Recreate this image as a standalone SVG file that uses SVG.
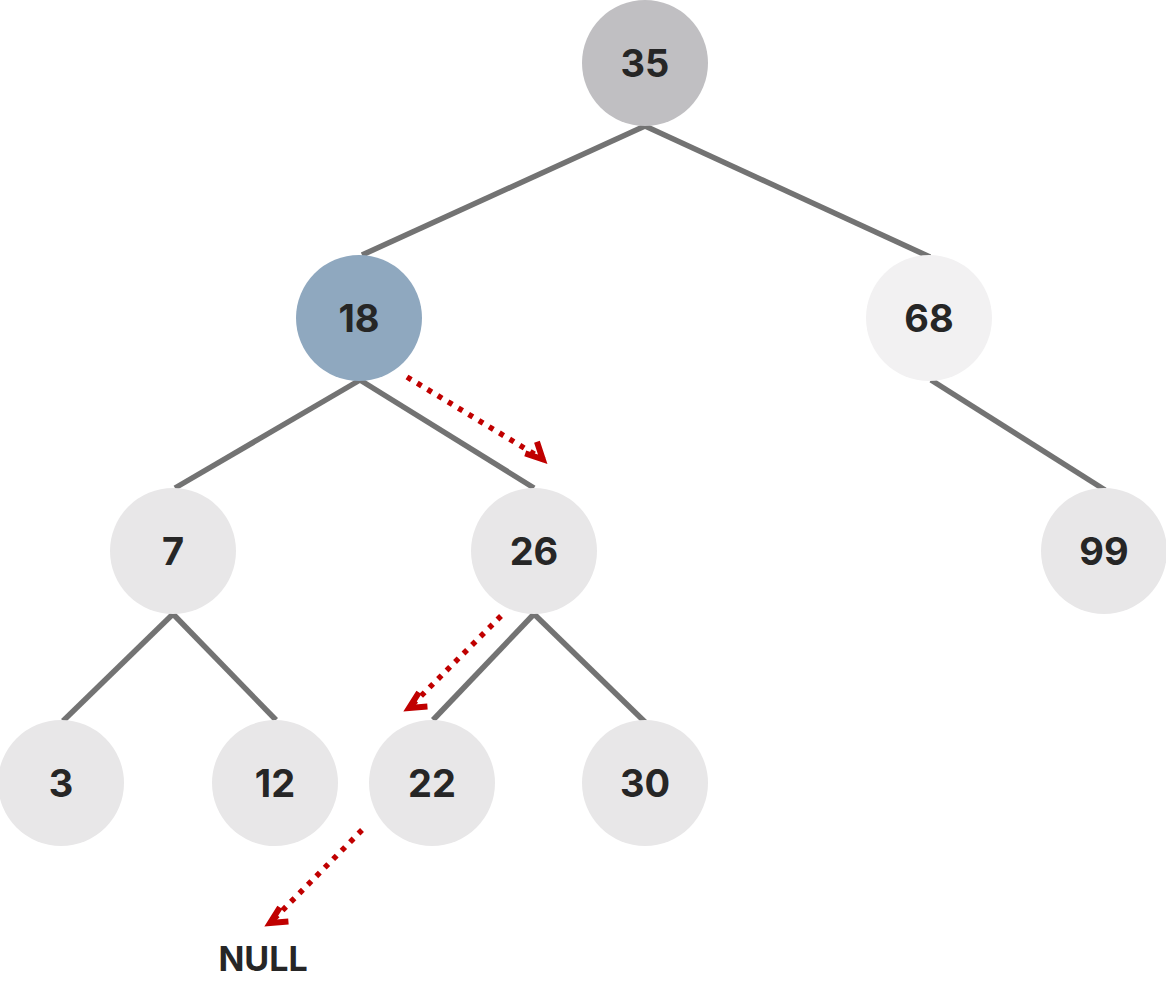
<svg xmlns="http://www.w3.org/2000/svg" width="1166" height="1002" viewBox="0 0 1166 1002">
<style>
.e{stroke:#737373;stroke-width:5.5;fill:none}
.a{stroke:#c00000;stroke-width:5.5;stroke-dasharray:5 7;fill:none}
.t{font-family:Inter,"Noto Sans",sans-serif;font-weight:bold;font-size:38px;fill:#262626;text-anchor:middle;dominant-baseline:central}
.g{fill:#e8e7e8}
</style>
<defs>
<marker id="ah" markerWidth="8" markerHeight="8" refX="5.5" refY="4" orient="auto" markerUnits="userSpaceOnUse" viewBox="0 0 8 8" overflow="visible">
<path d="M-10,-8 L4,4 L-14,8" fill="none" stroke="#c00000" stroke-width="6" stroke-linejoin="miter"/>
</marker>
</defs>
<g id="connectors">
<line class="e" x1="645" y1="126" x2="362" y2="255"/>
<line class="e" x1="645" y1="126" x2="930" y2="257"/>
<line class="e" x1="360" y1="380" x2="175" y2="488"/>
<line class="e" x1="360" y1="380" x2="534" y2="488"/>
<line class="e" x1="931" y1="380" x2="1105" y2="490"/>
<line class="e" x1="173" y1="614" x2="63" y2="721"/>
<line class="e" x1="173" y1="614" x2="276" y2="720"/>
<line class="e" x1="534" y1="614" x2="433" y2="720"/>
<line class="e" x1="534" y1="614" x2="645" y2="722"/>
<line class="a" x1="407" y1="377" x2="544" y2="460" marker-end="url(#ah)"/>
<line class="a" x1="501" y1="616" x2="408" y2="709" marker-end="url(#ah)"/>
<line class="a" x1="362" y1="830" x2="269" y2="924" marker-end="url(#ah)"/>
</g>
<g id="n35"><circle cx="645" cy="63" r="63" fill="#c0bfc2"/><text class="t" x="645" y="63">35</text></g>
<g id="n18"><circle cx="359" cy="318" r="63" fill="#8fa8bf"/><text class="t" x="359" y="318">18</text></g>
<g id="n68"><circle cx="929" cy="318" r="63" fill="#f2f1f2"/><text class="t" x="929" y="318">68</text></g>
<g id="n7"><circle class="g" cx="173" cy="551" r="63"/><text class="t" x="173" y="551">7</text></g>
<g id="n26"><circle class="g" cx="534" cy="551" r="63"/><text class="t" x="534" y="551">26</text></g>
<g id="n99"><circle class="g" cx="1104" cy="551" r="63"/><text class="t" x="1104" y="551">99</text></g>
<g id="n3"><circle class="g" cx="61" cy="783" r="63"/><text class="t" x="61" y="783">3</text></g>
<g id="n12"><circle class="g" cx="275" cy="783" r="63"/><text class="t" x="275" y="783">12</text></g>
<g id="n22"><circle class="g" cx="432" cy="783" r="63"/><text class="t" x="432" y="783">22</text></g>
<g id="n30"><circle class="g" cx="645" cy="783" r="63"/><text class="t" x="645" y="783">30</text></g>
<g id="null"><text class="t" x="263" y="958" style="font-size:34px">NULL</text></g>
</svg>
